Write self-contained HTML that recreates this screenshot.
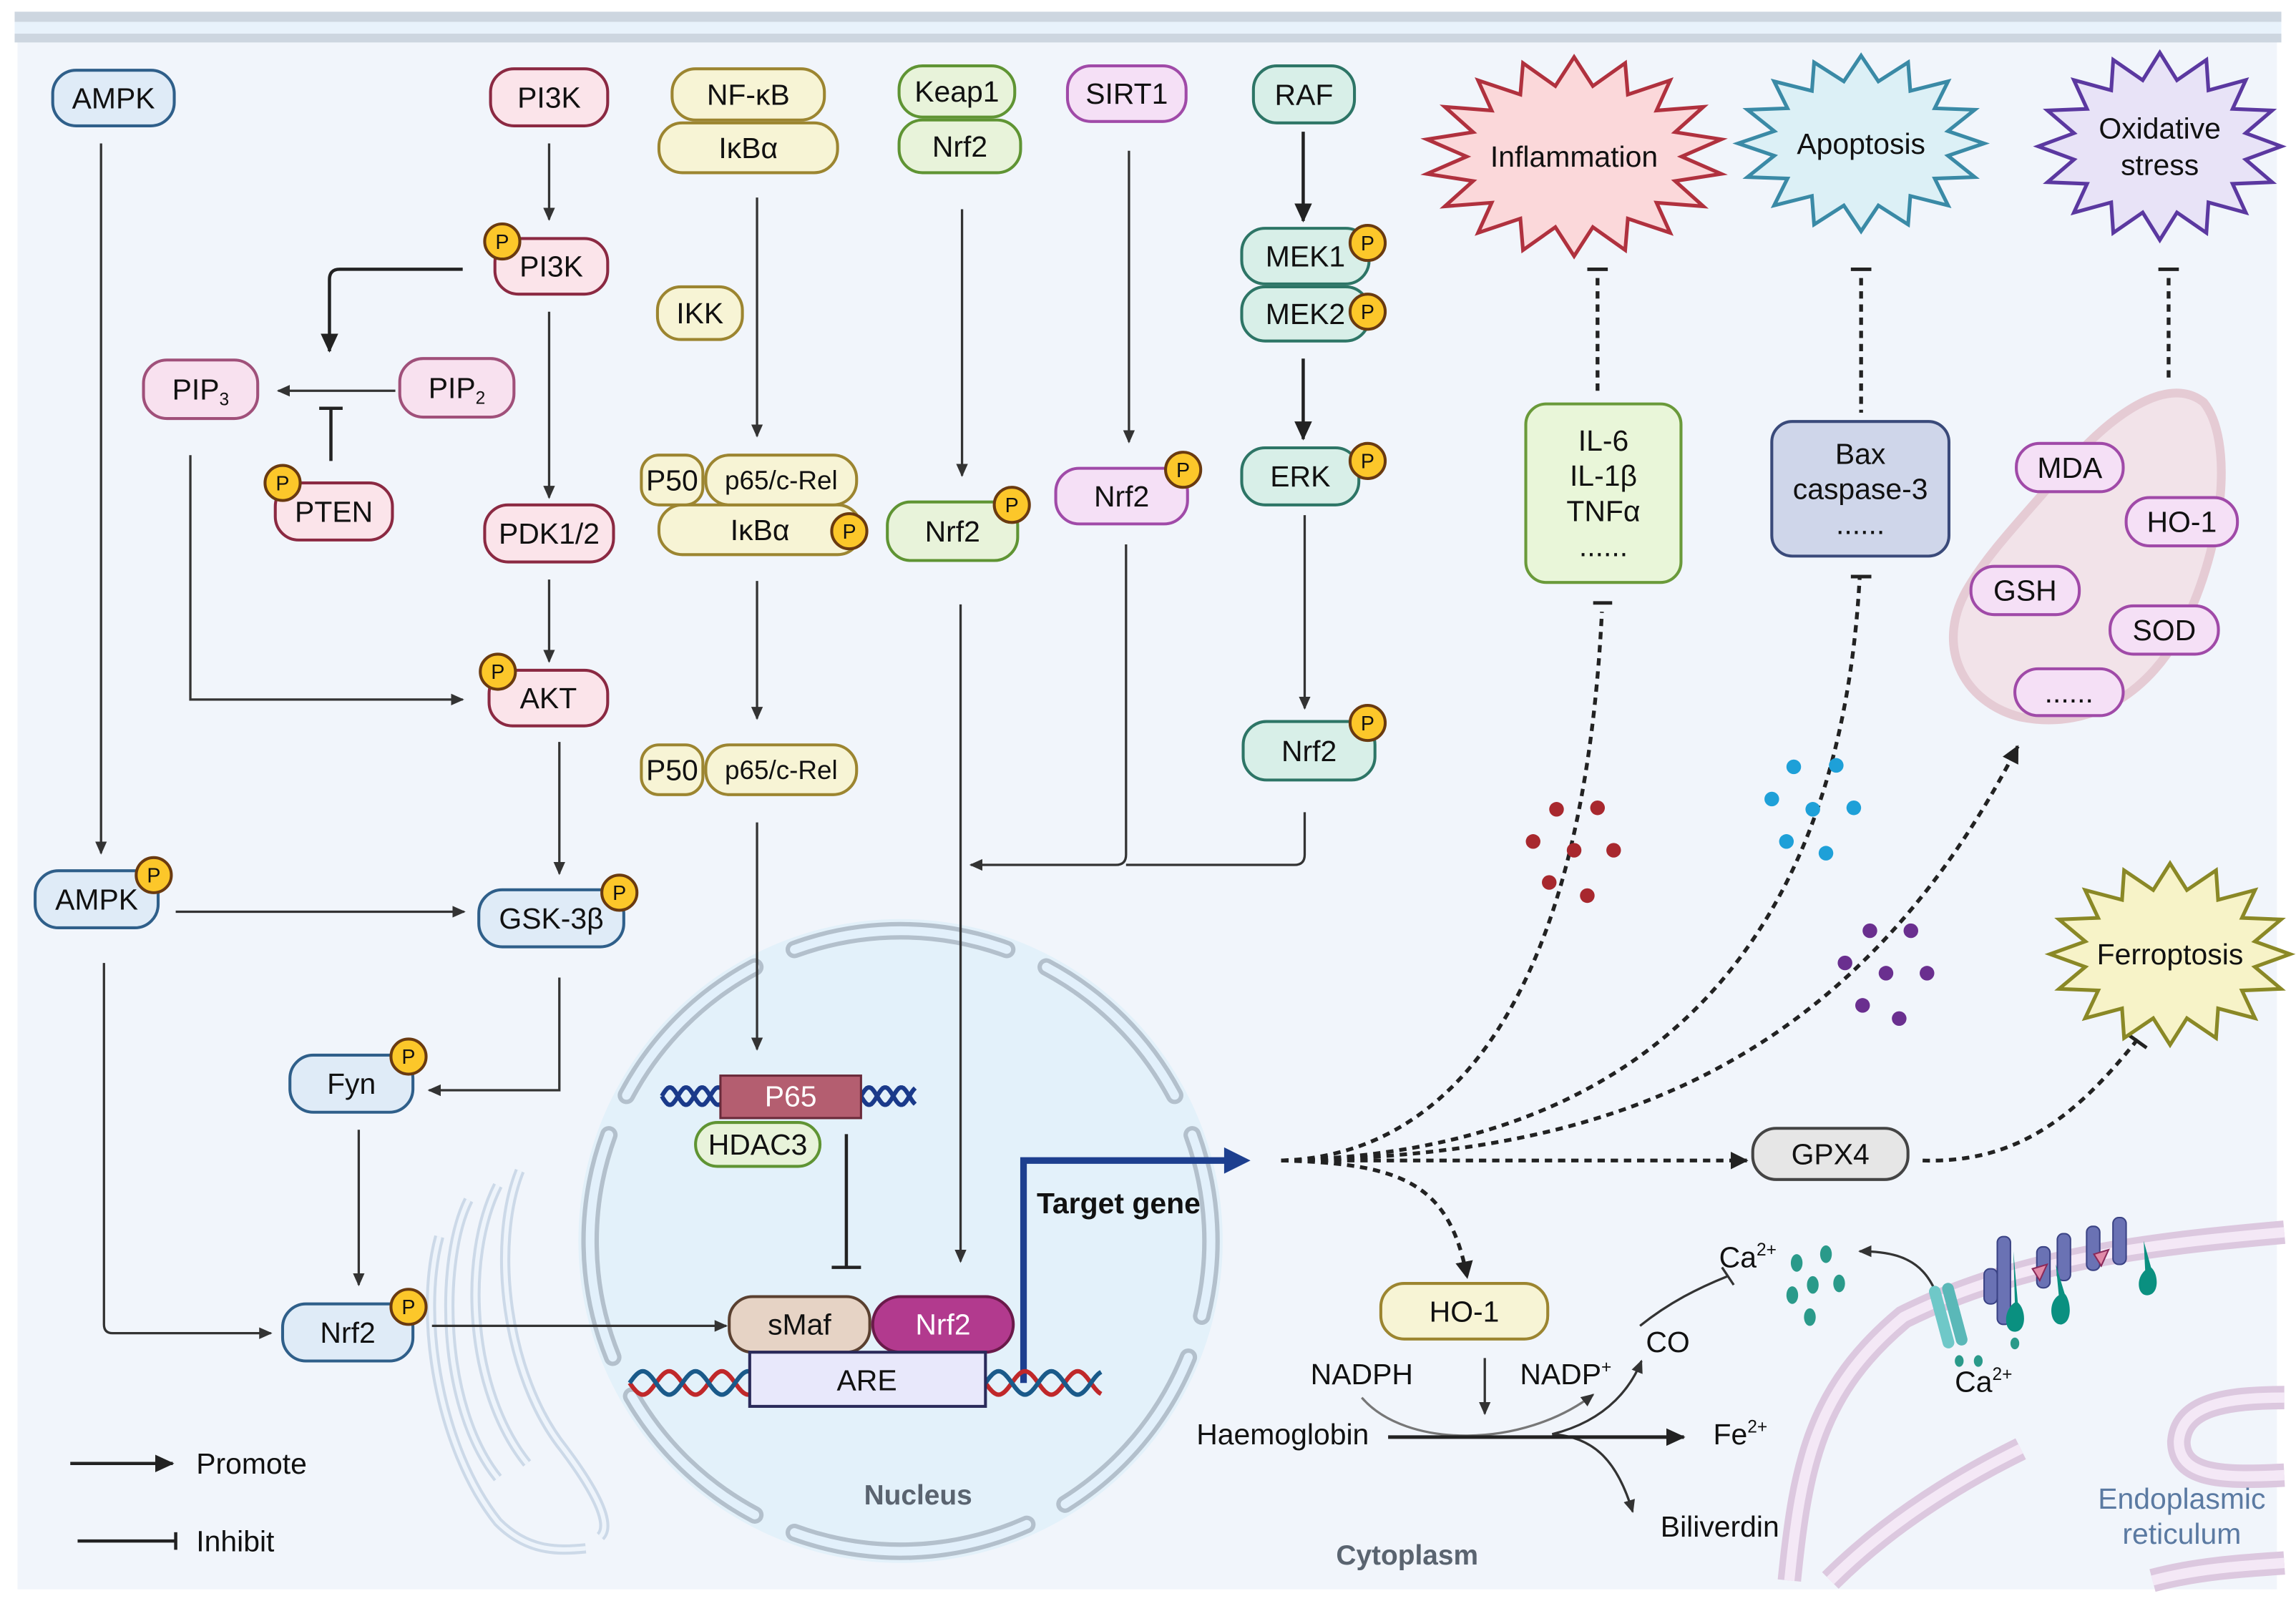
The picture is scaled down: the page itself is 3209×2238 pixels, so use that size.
<!DOCTYPE html>
<html><head><meta charset="utf-8"><style>
html,body{margin:0;padding:0;background:#fff;}
svg{display:block;}
text{font-family:"Liberation Sans",Arial,sans-serif;fill:#111;}
</style></head><body>
<svg id="s" width="3209" height="2238" viewBox="0 0 1568 1094" preserveAspectRatio="none" xmlns="http://www.w3.org/2000/svg">
<defs>
<marker id="a" markerWidth="10" markerHeight="10" refX="8" refY="5" orient="auto" markerUnits="userSpaceOnUse"><path d="M0,1 L9,5 L0,9 Z" fill="#333"/></marker>
<marker id="ab" markerWidth="14" markerHeight="14" refX="12" refY="7" orient="auto" markerUnits="userSpaceOnUse"><path d="M0,1 L13,7 L0,13 Z" fill="#222"/></marker>
<marker id="ad" markerWidth="14" markerHeight="14" refX="11" refY="7" orient="auto" markerUnits="userSpaceOnUse"><path d="M0,1 L12,7 L0,13 Z" fill="#222"/></marker>
<marker id="ti" markerWidth="16" markerHeight="16" refX="2" refY="8" orient="auto" markerUnits="userSpaceOnUse"><path d="M2,1 L2,15" stroke="#222" stroke-width="2.5"/></marker>
</defs>
<rect x="0" y="0" width="1568" height="1094" fill="#fff"/>
<rect x="12" y="24" width="1543" height="1062" fill="#f1f5fb"/>
<rect x="10" y="8" width="1548" height="7" fill="#cdd6e0"/>
<rect x="10" y="15" width="1548" height="8" fill="#e8f2fb"/>
<rect x="10" y="23" width="1548" height="6" fill="#cdd6e0"/>
<g id="bg"></g>
<!-- nucleus -->
<circle cx="615" cy="848" r="220" fill="#e3f1fa"/>
<g id="nuc"></g>
<!-- golgi -->
<g fill="none" stroke="#c9d6e6" stroke-width="7" opacity="0.9">
<path d="M320,820 C300,860 300,960 340,1010"/>
<path d="M340,810 C315,860 320,950 360,1000"/>
<path d="M355,800 C335,850 345,940 385,990 C400,1010 420,1040 410,1050"/>
<path d="M300,845 C285,900 300,990 340,1040 C360,1060 380,1060 400,1058"/>
</g>
<g fill="none" stroke="#eef4fb" stroke-width="3">
<path d="M320,820 C300,860 300,960 340,1010"/>
<path d="M340,810 C315,860 320,950 360,1000"/>
<path d="M355,800 C335,850 345,940 385,990 C400,1010 420,1040 410,1050"/>
<path d="M300,845 C285,900 300,990 340,1040 C360,1060 380,1060 400,1058"/>
</g>
<!-- ER -->
<g fill="none" stroke="#dcc8df" stroke-width="16">
<path d="M1222,1080 C1230,1000 1240,950 1300,900 C1380,860 1470,850 1560,842"/>
<path d="M1222,1080 C1260,1040 1300,1000 1340,960" opacity="0"/>
<path d="M1560,955 C1520,955 1490,960 1488,985 C1488,1010 1520,1010 1560,1008"/>
<path d="M1250,1080 C1300,1030 1360,1000 1380,990"/>
<path d="M1470,1080 C1500,1072 1530,1070 1560,1068"/>
</g>
<g fill="none" stroke="#f4e8f6" stroke-width="7">
<path d="M1222,1080 C1230,1000 1240,950 1300,900 C1380,860 1470,850 1560,842"/>
<path d="M1560,955 C1520,955 1490,960 1488,985 C1488,1010 1520,1010 1560,1008"/>
<path d="M1250,1080 C1300,1030 1360,1000 1380,990"/>
<path d="M1470,1080 C1500,1072 1530,1070 1560,1068"/>
</g>
<!-- mitochondrion -->
<g opacity="0.55">
<path d="M1345,400 C1320,440 1340,480 1380,490 C1430,500 1470,470 1490,430 C1520,370 1525,300 1505,275 C1480,255 1440,285 1410,320 C1385,350 1360,375 1345,400 Z" fill="#f3d5dc" stroke="#dcaab6" stroke-width="6"/>
</g>
<!-- connectors -->
<g stroke="#333" stroke-width="1.6" fill="none">
<line x1="69" y1="98" x2="69" y2="583" marker-end="url(#a)"/>
<line x1="375" y1="98" x2="375" y2="150" marker-end="url(#a)"/>
<line x1="270" y1="267" x2="190" y2="267" marker-end="url(#a)"/>
<line x1="375" y1="213" x2="375" y2="340" marker-end="url(#a)"/>
<line x1="375" y1="396" x2="375" y2="452" marker-end="url(#a)"/>
<path d="M130,311 L130,478 L316,478" marker-end="url(#a)"/>
<line x1="382" y1="507" x2="382" y2="597" marker-end="url(#a)"/>
<line x1="120" y1="623" x2="317" y2="623" marker-end="url(#a)"/>
<path d="M382,668 L382,745 L293,745" marker-end="url(#a)"/>
<line x1="245" y1="772" x2="245" y2="878" marker-end="url(#a)"/>
<path d="M71,658 L71,905 Q71,911 77,911 L185,911" marker-end="url(#a)"/>
<line x1="295" y1="906" x2="496" y2="906" marker-end="url(#a)"/>
<line x1="517" y1="135" x2="517" y2="298" marker-end="url(#a)"/>
<line x1="517" y1="397" x2="517" y2="491" marker-end="url(#a)"/>
<line x1="517" y1="562" x2="517" y2="717" marker-end="url(#a)"/>
<line x1="657" y1="143" x2="657" y2="325" marker-end="url(#a)"/>
<line x1="771" y1="103" x2="771" y2="302" marker-end="url(#a)"/>
<line x1="656" y1="413" x2="656" y2="862" marker-end="url(#a)"/>
<path d="M769,372 L769,584 Q769,591 762,591 L663,591" marker-end="url(#a)"/>
<path d="M891,555 L891,584 Q891,591 884,591 L769,591"/>
<line x1="891" y1="352" x2="891" y2="484" marker-end="url(#a)"/>
<line x1="1014" y1="928" x2="1014" y2="966" marker-end="url(#a)"/>
</g>
<g stroke="#222" stroke-width="2.2" fill="none">
<path d="M316,184 L232,184 Q225,184 225,191 L225,240" marker-end="url(#ab)"/>
<line x1="890" y1="90" x2="890" y2="151" marker-end="url(#ab)"/>
<line x1="890" y1="245" x2="890" y2="300" marker-end="url(#ab)"/>
<line x1="226" y1="315" x2="226" y2="280"/><line x1="218" y1="279" x2="234" y2="279"/>
<line x1="578" y1="775" x2="578" y2="865"/><line x1="568" y1="866" x2="588" y2="866"/>
<line x1="48" y1="1000" x2="118" y2="1000" marker-end="url(#ab)"/>
<line x1="53" y1="1053" x2="120" y2="1053"/><line x1="120" y1="1047" x2="120" y2="1059"/>
</g>
<!-- dotted -->
<g stroke="#222" stroke-width="2.6" fill="none" stroke-dasharray="5,4">
<path d="M875,793 C980,790 1080,700 1094,418"/>
<path d="M875,793 C990,790 1250,760 1270,395"/>
<path d="M875,793 C1050,790 1250,760 1378,510" marker-end="url(#ad)"/>
<path d="M875,793 L1193,793" marker-end="url(#ad)"/>
<path d="M875,793 C960,795 990,810 1002,873" marker-end="url(#ad)"/>
<path d="M1313,793 C1380,795 1420,760 1460,710"/>
<line x1="1091" y1="190" x2="1091" y2="268"/>
<line x1="1271" y1="190" x2="1271" y2="282"/>
<line x1="1481" y1="190" x2="1481" y2="258"/>
</g>
<g stroke="#222" stroke-width="2.4">
<line x1="1084" y1="184" x2="1098" y2="184"/><line x1="1264" y1="184" x2="1278" y2="184"/><line x1="1474" y1="184" x2="1488" y2="184"/>
<line x1="1088" y1="412" x2="1101" y2="412"/><line x1="1264" y1="394" x2="1278" y2="394"/>
<line x1="1452" y1="706" x2="1466" y2="716"/>
</g>
<!-- haem reaction -->
<g stroke="#333" stroke-width="1.6" fill="none">
<path d="M930,955 C960,990 1040,990 1088,953" marker-end="url(#a)" stroke="#777"/>
<path d="M1060,980 C1100,970 1115,945 1121,930" marker-end="url(#a)"/>
<path d="M1120,906 C1140,890 1160,880 1180,872"/><line x1="1176" y1="866" x2="1184" y2="878"/>
<path d="M1060,980 C1090,982 1105,1000 1115,1033" marker-end="url(#a)"/>
<path d="M1330,920 C1325,870 1310,855 1270,855" marker-end="url(#a)"/>
</g>
<line x1="948" y1="982" x2="1150" y2="982" stroke="#222" stroke-width="2.4" marker-end="url(#ab)"/>
<!-- target gene -->
<path d="M699,945 L699,793 L840,793" stroke="#1d3f8f" stroke-width="4.5" fill="none"/>
<path d="M836,784 L854,793 L836,802 Z" fill="#1d3f8f"/>
<g id="dna"></g>
<g id="nodes"></g>
<g id="stars"></g>
<!-- particles -->
<g fill="#a8282e">
<circle cx="1063" cy="553" r="5"/><circle cx="1091" cy="552" r="5"/><circle cx="1047" cy="575" r="5"/><circle cx="1075" cy="581" r="5"/><circle cx="1102" cy="581" r="5"/><circle cx="1058" cy="603" r="5"/><circle cx="1084" cy="612" r="5"/></g>
<g fill="#1ea0d8">
<circle cx="1225" cy="524" r="5"/><circle cx="1254" cy="523" r="5"/><circle cx="1210" cy="546" r="5"/><circle cx="1238" cy="553" r="5"/><circle cx="1266" cy="552" r="5"/><circle cx="1220" cy="575" r="5"/><circle cx="1247" cy="583" r="5"/></g>
<g fill="#6a2f8f">
<circle cx="1277" cy="636" r="5"/><circle cx="1305" cy="636" r="5"/><circle cx="1260" cy="658" r="5"/><circle cx="1288" cy="665" r="5"/><circle cx="1316" cy="665" r="5"/><circle cx="1272" cy="687" r="5"/><circle cx="1297" cy="696" r="5"/></g>
<g fill="#2a9a8a">
<ellipse cx="1227" cy="863" rx="4" ry="6"/><ellipse cx="1247" cy="857" rx="4" ry="6"/><ellipse cx="1238" cy="878" rx="4" ry="6"/><ellipse cx="1256" cy="877" rx="4" ry="6"/><ellipse cx="1224" cy="885" rx="4" ry="6"/><ellipse cx="1236" cy="900" rx="4" ry="6"/>
<ellipse cx="1351" cy="930" rx="3" ry="4"/><ellipse cx="1338" cy="930" rx="3" ry="4"/><ellipse cx="1376" cy="918" rx="3" ry="4"/></g>
<!-- ER channels -->
<g>
<rect x="1322" y="878" width="8" height="44" rx="4" fill="#6fc8c8" transform="rotate(-15 1326 900)"/>
<rect x="1331" y="876" width="8" height="44" rx="4" fill="#5ab8b8" transform="rotate(-15 1335 898)"/>
<rect x="1355" y="867" width="9" height="24" rx="4" fill="#6a72b4" stroke="#3a4284"/>
<rect x="1364" y="845" width="9" height="60" rx="4" fill="#6a72b4" stroke="#3a4284"/>
<rect x="1391" y="852" width="9" height="28" rx="4" fill="#6a72b4" stroke="#3a4284"/>
<rect x="1405" y="843" width="9" height="32" rx="4" fill="#6a72b4" stroke="#3a4284"/>
<rect x="1425" y="838" width="9" height="30" rx="4" fill="#6a72b4" stroke="#3a4284"/>
<rect x="1443" y="832" width="9" height="32" rx="4" fill="#6a72b4" stroke="#3a4284"/>
<path d="M1375,855 L1376,890 C1368,895 1368,910 1376,910 C1384,910 1384,895 1378,890 Z" fill="#0a9080"/>
<path d="M1404,864 L1406,885 C1398,890 1400,906 1408,905 C1416,903 1414,888 1410,884 Z" fill="#0a9080"/>
<path d="M1464,848 L1465,868 C1458,874 1460,886 1467,885 C1475,884 1474,870 1469,866 Z" fill="#0a9080"/>
<path d="M1388,867 L1398,864 L1393,875 Z" fill="#e08aa8" stroke="#8a2a5a"/>
<path d="M1430,857 L1440,854 L1435,865 Z" fill="#e08aa8" stroke="#8a2a5a"/>
</g>
<!-- texts -->
<g font-size="20">
<text x="930" y="946" text-anchor="middle">NADPH</text>
<text x="1038" y="946">NADP<tspan font-size="12" dy="-8">+</tspan></text>
<text x="1124" y="924">CO</text>
<text x="1174" y="866">Ca<tspan font-size="12" dy="-8">2+</tspan></text>
<text x="1335" y="951">Ca<tspan font-size="12" dy="-8">2+</tspan></text>
<text x="876" y="987" text-anchor="middle">Haemoglobin</text>
<text x="1170" y="987">Fe<tspan font-size="12" dy="-8">2+</tspan></text>
<text x="1134" y="1050">Biliverdin</text>
<text x="134" y="1007">Promote</text>
<text x="134" y="1060">Inhibit</text>
</g>
<text x="708" y="829" font-size="20" font-weight="bold">Target gene</text>
<text x="627" y="1028" font-size="19" font-weight="bold" text-anchor="middle" style="fill:#5a6470">Nucleus</text>
<text x="961" y="1069" font-size="19" font-weight="bold" text-anchor="middle" style="fill:#5a6470">Cytoplasm</text>
<text x="1490" y="1031" font-size="20" text-anchor="middle" style="fill:#5b7aa2">Endoplasmic</text>
<text x="1490" y="1055" font-size="20" text-anchor="middle" style="fill:#5b7aa2">reticulum</text>
</svg>
<script>
var NS="http://www.w3.org/2000/svg";
function el(p,t,a,txt){var e=document.createElementNS(NS,t);for(var k in a)e.setAttribute(k,a[k]);if(txt!=null)e.textContent=txt;p.appendChild(e);return e;}
var N=document.getElementById('nodes');
var C={b:['#dfebf7','#2f5f8a'],p:['#fbe4ea','#8b2942'],m:['#f8e1ef','#a0507a'],y:['#f7f4d5','#9c8530'],g:['#e8f3da','#5f9433'],v:['#f5e0f6','#a04aa8'],t:['#d8efe8','#2d7566'],gr:['#e6e6e6','#444'],bx:['#cfd6ea','#3a4a7a'],lg:['#e9f6d9','#6a9a3a']};
function node(x1,y1,x2,y2,c,label,fs,rx){var g=el(N,'g',{});el(g,'rect',{x:x1,y:y1,width:x2-x1,height:y2-y1,rx:rx||Math.min(16,(y2-y1)/2),fill:C[c][0],stroke:C[c][1],'stroke-width':2});
 if(label!=null){var lines=label.split('|');var n=lines.length;var lh=(fs||20)*1.2;lines.forEach(function(L,i){var t=el(g,'text',{x:(x1+x2)/2,y:(y1+y2)/2+(i-(n-1)/2)*lh+(fs||20)*0.35,'text-anchor':'middle','font-size':fs||20});
 var m=L.match(/^(.*)_(\d)$/);if(m){t.textContent=m[1];el(t,'tspan',{'font-size':12,dy:4},m[2]);}else t.textContent=L;});}}
function P(x,y){el(N,'circle',{cx:x,cy:y,r:12,fill:'#fcc72a',stroke:'#6a3a10','stroke-width':2});el(N,'text',{x:x,y:y+5,'text-anchor':'middle','font-size':14},'P');}
node(36,48,119,86,'b','AMPK');
node(335,47,415,86,'p','PI3K');
node(338,163,415,201,'p','PI3K');P(343,165);
node(98,246,176,286,'m','PIP_3');
node(273,245,351,285,'m','PIP_2');
node(188,330,268,369,'p','PTEN');P(193,330);
node(331,345,419,384,'p','PDK1/2');
node(334,458,415,496,'p','AKT');P(340,459);
node(24,595,108,634,'b','AMPK');P(105,598);
node(327,608,426,647,'b','GSK-3β');P(423,610);
node(198,721,282,760,'b','Fyn');P(279,722);
node(193,891,282,930,'b','Nrf2');P(279,893);
node(459,47,563,82,'y','NF-κB');
node(450,84,572,118,'y','IκBα');
node(449,196,507,232,'y','IKK');
node(450,345,588,379,'y','IκBα');
node(438,311,480,345,'y','P50',20,12);node(482,311,585,345,'y','p65/c-Rel',18);P(580,363);
node(438,509,480,543,'y','P50',20,12);node(482,509,585,543,'y','p65/c-Rel',18);
node(614,45,693,80,'g','Keap1');node(614,82,697,118,'g','Nrf2');
node(729,45,810,83,'v','SIRT1');
node(606,343,695,383,'g','Nrf2');P(691,345);
node(721,320,811,358,'v','Nrf2');P(808,321);
node(856,45,925,84,'t','RAF');
node(848,156,935,194,'t','MEK1');P(934,166);
node(848,196,935,233,'t','MEK2');P(934,213);
node(848,306,928,345,'t','ERK');P(934,315);
node(849,493,939,533,'t','Nrf2');P(934,494);
node(1042,276,1148,398,'lg','IL-6|IL-1β|TNFα|......',20,14);
node(1210,288,1331,380,'bx','Bax|caspase-3|......',20,14);
node(1377,303,1450,336,'v','MDA');node(1452,340,1528,373,'v','HO-1');node(1346,387,1420,420,'v','GSH');node(1441,414,1515,447,'v','SOD');node(1376,457,1450,489,'v','......');
node(1197,771,1303,806,'gr','GPX4');
node(943,877,1057,915,'y','HO-1');
// nucleus components
el(N,'rect',{x:492,y:735,width:96,height:29,fill:'#b45e70',stroke:'#6a2a3a','stroke-width':1.5});
el(N,'text',{x:540,y:756,'text-anchor':'middle','font-size':20,style:'fill:#fff'},'P65');
node(475,767,560,797,'g','HDAC3');
node(498,886,594,924,'bx','sMaf');N.lastChild.firstChild.setAttribute('fill','#e6d3c5');N.lastChild.firstChild.setAttribute('stroke','#5a4030');
var g=el(N,'g',{});el(g,'rect',{x:596,y:886,width:96,height:38,rx:19,fill:'#b23a8e',stroke:'#6a1a4a','stroke-width':2});el(g,'text',{x:644,y:912,'text-anchor':'middle','font-size':20,style:'fill:#fff'},'Nrf2');
el(N,'rect',{x:512,y:924,width:161,height:37,fill:'#e8e8fb',stroke:'#2a2a5a','stroke-width':2});
el(N,'text',{x:592,y:950,'text-anchor':'middle','font-size':20},'ARE');
// DNA
var D=document.getElementById('dna');
function wave(x1,x2,yc,amp,per,col,ph,w){var d='';for(var x=x1;x<=x2;x+=1){var y=yc+amp*Math.sin((x-x1)/per*2*Math.PI+ph);d+=(x==x1?'M':'L')+x+','+y.toFixed(1);}el(D,'path',{d:d,fill:'none',stroke:col,'stroke-width':w||3});}
wave(430,512,945,8,36,'#c0282a',0);wave(430,512,945,8,36,'#1a5a8a',Math.PI);
wave(673,752,945,8,36,'#c0282a',0);wave(673,752,945,8,36,'#1a5a8a',Math.PI);
wave(452,492,749,6,22,'#1a3a8a',0);wave(452,492,749,6,22,'#1a3a8a',Math.PI);
wave(588,625,749,6,22,'#1a3a8a',0);wave(588,625,749,6,22,'#1a3a8a',Math.PI);
// nucleus membrane segments
var Nu=document.getElementById('nuc');var cx=615,cy=848,R=212;
var segs=[[-112,-70],[-60,-24],[-16,16],[24,52],[62,96],[108,150],[160,200],[210,246],[256,292],[300,320]];
// use angles measured from top clockwise
[[-20,20],[28,62],[70,104],[112,148],[156,200],[208,240],[248,290],[298,332]].forEach(function(s){var a1=(s[0]-90)*Math.PI/180,a2=(s[1]-90)*Math.PI/180;
 var d='M'+(cx+R*Math.cos(a1))+','+(cy+R*Math.sin(a1))+' A'+R+','+R+' 0 0 1 '+(cx+R*Math.cos(a2))+','+(cy+R*Math.sin(a2));
 el(Nu,'path',{d:d,fill:'none',stroke:'#b3c0cc','stroke-width':12,'stroke-linecap':'round'});
 el(Nu,'path',{d:d,fill:'none',stroke:'#e2f0fb','stroke-width':6,'stroke-linecap':'round'});});
// stars
var S=document.getElementById('stars');
function star(x,y,rx,ry,n,fill,stroke,label,fs){var pts=[];for(var i=0;i<2*n;i++){var a=i*Math.PI/n-Math.PI/2;var r=i%2?0.72:1;pts.push((x+rx*r*Math.cos(a)).toFixed(1)+','+(y+ry*r*Math.sin(a)).toFixed(1));}
 el(S,'polygon',{points:pts.join(' '),fill:fill,stroke:stroke,'stroke-width':2.5,'stroke-linejoin':'miter'});
 var L=label.split('|');L.forEach(function(t,i){el(S,'text',{x:x,y:y+7+(i-(L.length-1)/2)*25,'text-anchor':'middle','font-size':fs||20},t);});}
star(1075,107,102,68,18,'#fbd8da','#b0313e','Inflammation');
star(1271,98,84,60,16,'#dcf0f6','#3a8aa6','Apoptosis');
star(1475,100,83,64,16,'#e8e3f7','#5b38a0','Oxidative|stress');
star(1482,652,82,62,16,'#f7f3c8','#8a8826','Ferroptosis');
</script>
</body></html>
